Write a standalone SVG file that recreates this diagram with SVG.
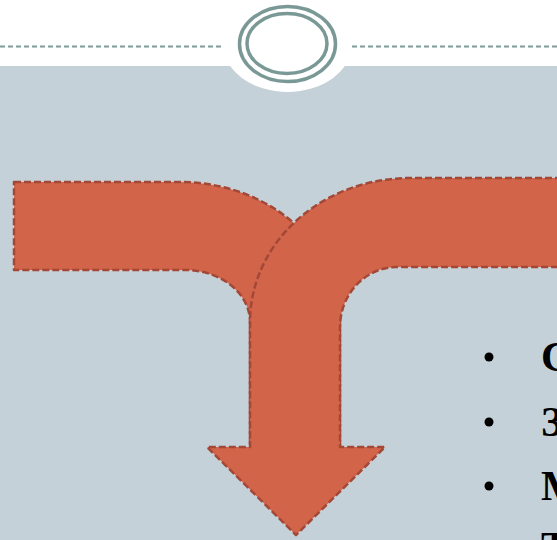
<svg xmlns="http://www.w3.org/2000/svg" width="557" height="540" viewBox="0 0 557 540">
<style>
.arrow{fill:#D26449;stroke:#A34836;stroke-width:2.5;stroke-dasharray:7 3;stroke-linejoin:round}
.rule{stroke:#7F9C9A;stroke-width:2;stroke-dasharray:5 3;fill:none}
.ring{fill:none;stroke:#7A9996;stroke-width:3.5}
.txt{font-family:"Liberation Serif","Times New Roman",serif;font-weight:bold;font-size:42px;fill:#000}
</style>
<rect x="0" y="0" width="557" height="540" fill="#C5D1D8"/>
<rect x="0" y="0" width="557" height="66" fill="#FFFFFF"/>
<g id="header">
<ellipse cx="287.5" cy="44" rx="64.5" ry="48" fill="#FFFFFF"/>
<line class="rule" x1="0" y1="46.5" x2="223" y2="46.5"/>
<line class="rule" x1="352" y1="46.5" x2="557" y2="46.5"/>
<ellipse class="ring" cx="287.5" cy="44" rx="48" ry="37.5"/>
<ellipse class="ring" cx="287" cy="43.5" rx="40" ry="30"/>
</g>
<g id="left-arrow">
<path class="arrow" d="M14,182 H180 A160,138 0 0 1 340,320 V447 H250 V322 A65,52 0 0 0 185,270 H14 Z"/>
</g>
<g id="right-arrow">
<path class="arrow" d="M562,178 H410 A160,144 0 0 0 250,322 V447 H207 L296,535 L385,447 H340 V327 A57,60 0 0 1 397,267 H562"/>
</g>
<g id="bullets">
<circle cx="489" cy="357" r="4.5" fill="#000"/>
<circle cx="489" cy="422" r="4.5" fill="#000"/>
<circle cx="489" cy="486" r="4.5" fill="#000"/>
<text class="txt" x="541" y="371">С</text>
<text class="txt" x="541" y="436">З</text>
<text class="txt" x="541" y="500">М</text>
<text class="txt" x="541" y="561">Т</text>
</g>
</svg>
